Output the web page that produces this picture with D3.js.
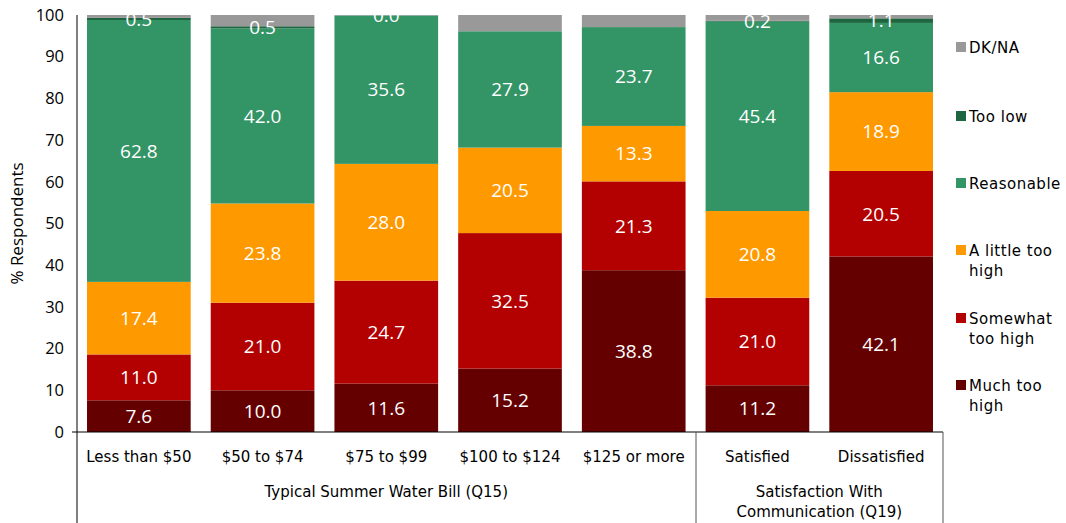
<!DOCTYPE html>
<html><head><meta charset="utf-8">
<script src="https://cdn.jsdelivr.net/npm/d3@7"></script>
<style>body{margin:0;background:#fff}svg{display:block}</style>
</head><body>
<svg id="c" width="1066" height="523"></svg>
<script>
const categories = ["Less than $50","$50 to $74","$75 to $99","$100 to $124","$125 or more","Satisfied","Dissatisfied"];
const seriesNames = ["Much too high","Somewhat too high","A little too high","Reasonable","Too low","DK/NA"];
const muchTooHigh   = [7.6, 10.0, 11.6, 15.2, 38.8, 11.2, 42.1];
const somewhatHigh  = [11.0, 21.0, 24.7, 32.5, 21.3, 21.0, 20.5];
const littleHigh    = [17.4, 23.8, 28.0, 20.5, 13.3, 20.8, 18.9];
const reasonable    = [62.8, 42.0, 35.6, 27.9, 23.7, 45.4, 16.6];
const tooLow        = [0.5, 0.5, 0.0, null, null, 0.2, 1.1];
const dkna          = [0.7, 2.7, 0.1, 3.9, 2.9, 1.4, 0.8];
const yTicks = [0,10,20,30,40,50,60,70,80,90,100];
const groups = [{label:["Typical Summer Water Bill (Q15)"], from:0, to:4},{label:["Satisfaction With","Communication (Q19)"], from:5, to:6}];
const legendLabels = [["DK/NA"],["Too low"],["Reasonable"],["A little too","high"],["Somewhat","too high"],["Much too","high"]];

const colors = ["#640000","#b30000","#ff9900","#339466","#1f6640","#999999"];
const seriesVals = [muchTooHigh, somewhatHigh, littleHigh, reasonable, tooLow, dkna];
const showLabel = [true,true,true,true,true,false];

const svg = d3.select("#c");
const L = 77, R = 943, T = 15, B = 432;
const font = "'Open Sans', 'DejaVu Sans', sans-serif";
const font2 = "'DejaVu Sans', sans-serif";
const x = d3.scaleBand().domain(categories).range([L, R]).paddingInner(0.162).paddingOuter(0.081);
const y = d3.scaleLinear().domain([0,100]).range([B, T]);

const rows = categories.map((c,i)=>{const o={cat:c}; seriesNames.forEach((s,j)=>o[s]=seriesVals[j][i]||0); return o;});
const stacked = d3.stack().keys(seriesNames)(rows);

svg.append("defs").append("clipPath").attr("id","pc").append("rect")
  .attr("x",L).attr("y",T).attr("width",R-L).attr("height",B-T);

const g = svg.append("g");
stacked.forEach((layer,j)=>{
  g.selectAll(null).data(layer).enter().append("rect")
    .attr("x",d=>x(d.data.cat)).attr("width",x.bandwidth())
    .attr("y",d=>y(d[1])).attr("height",d=>y(d[0])-y(d[1]))
    .attr("fill",colors[j]);
});
const lg = svg.append("g").attr("clip-path","url(#pc)");
stacked.forEach((layer,j)=>{
  if(!showLabel[j]) return;
  lg.selectAll(null).data(layer.filter((d,i)=>seriesVals[j][i]!==null)).enter().append("text")
    .attr("x",d=>x(d.data.cat)+x.bandwidth()/2)
    .attr("y",d=>(y(d[0])+y(d[1]))/2)
    .attr("dy","0.36em").attr("text-anchor","middle")
    .attr("fill","#fff").attr("font-family",font).attr("font-size",19)
    .text((d,i)=>d3.format(".1f")(d[1]-d[0]));
});

// y axis
const ya = svg.append("g").attr("transform",`translate(${L},0)`)
  .call(d3.axisLeft(y).tickValues(yTicks).tickSize(0).tickPadding(13));
ya.select(".domain").remove();
ya.selectAll("text").attr("font-family",font).attr("font-size",16.5).attr("fill","#000");
svg.append("line").attr("x1",L).attr("x2",L).attr("y1",T).attr("y2",523).attr("stroke","#000");
svg.append("line").attr("x1",L-5).attr("x2",R).attr("y1",B).attr("y2",B).attr("stroke","#000");
svg.append("text").attr("transform",`translate(23,${(T+B)/2}) rotate(-90)`)
  .attr("text-anchor","middle").attr("font-family",font).attr("font-size",17).text("% Respondents");

// x axis labels
const xa = svg.append("g").attr("transform",`translate(0,${B})`)
  .call(d3.axisBottom(x).tickSize(0).tickPadding(19));
xa.select(".domain").remove();
xa.selectAll("text").attr("font-family",font2).attr("font-size",15).attr("fill","#000");

// group separators and labels
svg.append("line").attr("x1",696).attr("x2",696).attr("y1",B).attr("y2",523).attr("stroke","#555");
svg.append("line").attr("x1",R).attr("x2",R).attr("y1",B).attr("y2",523).attr("stroke","#555");
groups.forEach(gr=>{
  const a = x(categories[gr.from]) - x.step()*x.paddingInner()/2;
  const b = x(categories[gr.to]) + x.bandwidth() + x.step()*x.paddingInner()/2;
  const t = svg.append("text").attr("text-anchor","middle").attr("font-family",font2).attr("font-size",15);
  gr.label.forEach((l,k)=>t.append("tspan").attr("x",(a+b)/2).attr("y",497+k*20).text(l));
});

// legend
const legY = [48,117,184,251,319,386];
const leg = svg.append("g");
legendLabels.forEach((lab,k)=>{
  const j = seriesNames.length-1-k;
  leg.append("rect").attr("x",956).attr("y",legY[k]-6).attr("width",10).attr("height",10).attr("fill",colors[j]);
  const t = leg.append("text").attr("font-family",font2).attr("font-size",15).attr("letter-spacing",0.5);
  lab.forEach((l,m)=>t.append("tspan").attr("x",969).attr("y",legY[k]+5+m*20).text(l));
});
</script>
</body></html>
